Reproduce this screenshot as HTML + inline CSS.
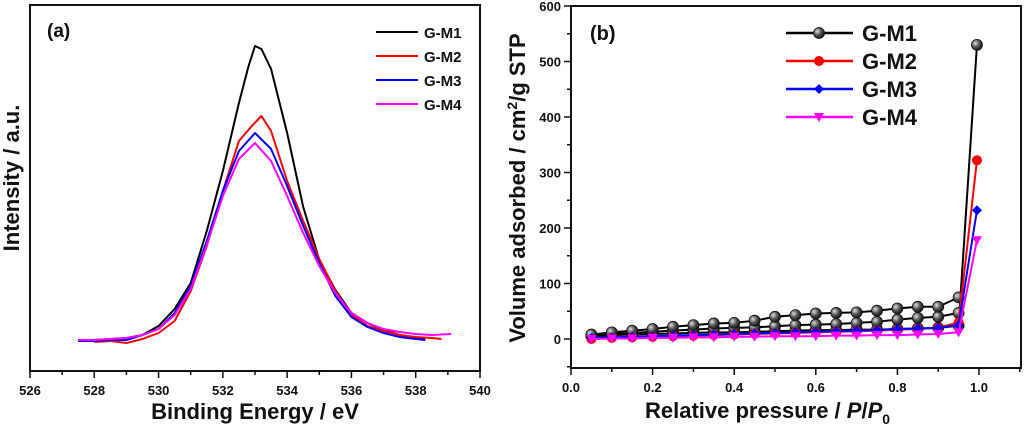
<!DOCTYPE html>
<html><head><meta charset="utf-8"><style>
body{margin:0;background:#fff;width:1024px;height:426px;overflow:hidden}
text{font-family:"Liberation Sans",sans-serif;font-weight:bold;fill:#111}
</style></head><body>
<svg id="c" width="1024" height="426" viewBox="0 0 1024 426" xmlns="http://www.w3.org/2000/svg">
<defs><radialGradient id="sph" cx="0.35" cy="0.35" r="0.7"><stop offset="0" stop-color="#ddd"/><stop offset="0.5" stop-color="#555"/><stop offset="1" stop-color="#111"/></radialGradient></defs>
</svg>
<script>
// Panel (a) data: binding energy (eV) -> intensity (a.u.)
const aE1=[527.5,528,528.5,529,529.5,530,530.5,531,531.5,532,532.5,532.8,533,533.2,533.5,534,534.5,535,535.5,536,536.5,537,537.5,538,538.3];
const aV1=[30,31,32,33,36,45,62,88,140,200,268,305,325,322,302,238,164,111,81,58,48,41,36,33,32];
const aE2=[528,528.5,529,529.5,530,530.5,531,531.5,532,532.5,532.9,533.2,533.5,534,534.5,535,535.5,536,536.5,537,537.5,538,538.5,538.8];
const aV2=[29,30,28,32,38,50,80,125,180,230,245,255,240,190,150,112,80,56,45,40,36,34,33,32];
const aE3=[527.5,528,528.5,529,529.5,530,530.5,531,531.5,532,532.5,533,533.5,534,534.5,535,535.5,536,536.5,537,537.5,538,538.3];
const aV3=[30,30,31,31,36,42,58,85,130,180,220,238,222,185,145,108,75,54,44,38,34,32,31];
const aE4=[527.5,528,528.5,529,529.5,530,530.5,531,531.5,532,532.5,533,533.5,534,534.5,535,535.5,536,536.5,537,537.5,538,538.5,539.1];
const aV4=[31,31,32,33,36,42,56,82,126,175,212,228,210,175,138,105,78,58,48,42,39,37,36,37];
const aXTicks=[526,528,530,532,534,536,538,540];
// Panel (b) data: relative pressure -> volume adsorbed
const bP=[0.05,0.1,0.15,0.2,0.25,0.3,0.35,0.4,0.45,0.5,0.55,0.6,0.65,0.7,0.75,0.8,0.85,0.9,0.95];
const b1Des=[8,12,15,18,22,25,28,29,33,40,43,46,47,48,51,55,58,58,75];
const b1Mid=[6,9,11,13,15,17,19,20,21,23,25,26,27,29,31,35,38,40,47];
const b1Ads=[5,7,8,9,10,11,12,12,13,14,15,16,16,17,17,18,19,20,24];
const b2=[0,2,3,4,5,6,7,8,9,10,11,12,13,14,15,17,18,20,30];
const b3=[2,3,4,5,6,7,8,9,10,11,12,13,14,15,16,18,19,20,25];
const b4=[0,1,1,2,2,3,3,4,4,5,5,5,6,6,7,7,8,9,12];
const bEndP=0.995;
const bEnd=[530,322,232,178];
const bXTicks=[0.0,0.2,0.4,0.6,0.8,1.0];
const bYTicks=[0,100,200,300,400,500,600];

const svg=document.getElementById('c');
const NS='http://www.w3.org/2000/svg';
function mk(tag,attrs,parent){const e=document.createElementNS(NS,tag);for(const k in attrs)e.setAttribute(k,attrs[k]);(parent||svg).appendChild(e);return e;}
function txt(s,attrs,name){const e=mk('text',attrs);e.textContent=s;return e;}

// ---- Panel a ----
const ax=v=>30+(v-526)*(450/14), ay=v=>371-v;
let g=mk('g',{});


let r=mk('rect',{x:30,y:5,width:450,height:366,fill:'none',stroke:'#111','stroke-width':2},g);


for(let v=526;v<=540;v++){const l=mk('line',{x1:ax(v),x2:ax(v),y1:371,y2:v%2==0?378:375,stroke:'#111','stroke-width':1.5},g);

}
aXTicks.forEach(v=>{txt(String(v),{x:ax(v),y:395,'font-size':13,'text-anchor':'middle'},'x-tick-label-a');});
txt('Binding Energy / eV',{x:255,y:419,'font-size':22,'text-anchor':'middle'},'x-axis-title-a');
txt('Intensity / a.u.',{x:0,y:0,'font-size':22,'text-anchor':'middle',transform:'translate(19,178) rotate(-90)'},'y-axis-title-a');
txt('(a)',{x:47,y:37,'font-size':19},'panel-label-a');
const aCols=['#000','#f00','#00f','#f0f'];
[[aE1,aV1],[aE2,aV2],[aE3,aV3],[aE4,aV4]].forEach((s,i)=>{
  const p=mk('polyline',{points:s[0].map((e,j)=>ax(e)+','+ay(s[1][j])).join(' '),fill:'none',stroke:aCols[i],'stroke-width':2,'stroke-linejoin':'round'},g);
  
  
  const y=32+i*24;
  const l=mk('line',{x1:376,x2:418,y1:y,y2:y,stroke:aCols[i],'stroke-width':2},g);
  
  
  txt('G-M'+(i+1),{x:424,y:y+6,'font-size':15},'legend-entry-a');
});

// ---- Panel b ----
const bx=v=>571+v*408, by=v=>339-v*(333/600);
g=mk('g',{});


r=mk('rect',{x:571,y:6,width:450,height:362,fill:'none',stroke:'#111','stroke-width':2},g);


for(let i=0;i<=11;i++){const v=i*0.1;const l=mk('line',{x1:bx(v),x2:bx(v),y1:368,y2:i%2==0?375:372,stroke:'#111','stroke-width':1.5},g);

}
for(let i=-1;i<=12;i++){const v=i*50;if(by(v)>368)continue;const l=mk('line',{x1:571,x2:i%2==0?564:567,y1:by(v),y2:by(v),stroke:'#111','stroke-width':1.5},g);

}
bXTicks.forEach(v=>txt(v.toFixed(1),{x:bx(v),y:392,'font-size':13,'text-anchor':'middle'},'x-tick-label-b'));
bYTicks.forEach(v=>txt(String(v),{x:561,y:by(v)+5,'font-size':13,'text-anchor':'end'},'y-tick-label-b'));
const xt=txt('Relative pressure / ',{x:645,y:418,'font-size':22},'x-axis-title-b');
const ts=mk('tspan',{'font-style':'italic'},xt);ts.textContent='P';
const ts2=mk('tspan',{},xt);ts2.textContent='/';
const ts3=mk('tspan',{'font-style':'italic'},xt);ts3.textContent='P';
const ts4=mk('tspan',{'font-size':14,dy:6},xt);ts4.textContent='0';
const yt=txt('Volume adsorbed / cm',{x:0,y:0,'font-size':22,'text-anchor':'middle',transform:'translate(525,188) rotate(-90)'},'y-axis-title-b');
const s1=mk('tspan',{'font-size':14,dy:-8},yt);s1.textContent='2';
const s2=mk('tspan',{dy:8},yt);s2.textContent='/g STP';
txt('(b)',{x:590,y:40,'font-size':20},'panel-label-b');
const bCols=['#000','#f00','#00f','#f0f'];
function marker(x,y,i,parent){
  let m;
  if(i==0)m=mk('circle',{cx:x,cy:y,r:5.5,fill:'url(#sph)',stroke:'#111','stroke-width':0.8},parent);
  else if(i==1)m=mk('circle',{cx:x,cy:y,r:5,fill:'#f00'},parent);
  else if(i==2)m=mk('polygon',{points:`${x},${y-5} ${x+5},${y} ${x},${y+5} ${x-5},${y}`,fill:'#00f'},parent);
  else m=mk('polygon',{points:`${x-5},${y-4} ${x+5},${y-4} ${x},${y+5}`,fill:'#f0f'},parent);
  
  
}
const bSeries=[[b1Ads,b1Mid,b1Des],[b2],[b3],[b4]];
bSeries.forEach((branches,i)=>{
  const sg=mk('g',{},g);
  
  
  branches.forEach((vals,k)=>{
    let pts=bP.map((p,j)=>bx(p)+','+by(vals[j]));
    if(k==0)pts.push(bx(bEndP)+','+by(bEnd[i]));
    const pl=mk('polyline',{points:pts.join(' '),fill:'none',stroke:bCols[i],'stroke-width':2},sg);
    
    
    bP.forEach((p,j)=>marker(bx(p),by(vals[j]),i,sg));
  });
  marker(bx(bEndP),by(bEnd[i]),i,sg);
  const y=33+i*28;
  const l=mk('line',{x1:786,x2:853,y1:y,y2:y,stroke:bCols[i],'stroke-width':2.5},g);
  
  
  marker(819,y,i,g);
  txt('G-M'+(i+1),{x:862,y:y+8,'font-size':22},'legend-entry-b');
});
</script>
</body></html>
